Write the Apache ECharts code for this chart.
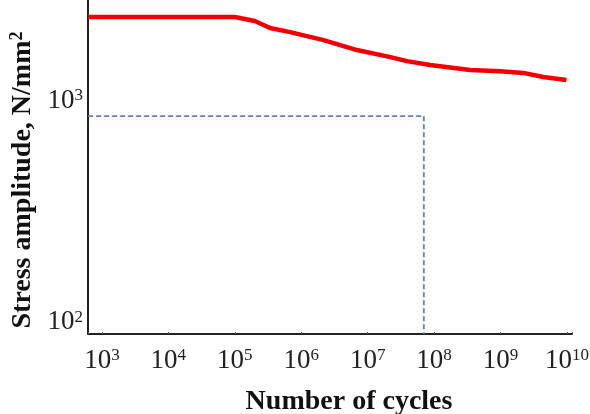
<!DOCTYPE html>
<html>
<head>
<meta charset="utf-8">
<script src="https://cdn.jsdelivr.net/npm/echarts@6/dist/echarts.min.js"></script>
<style>
  html, body { margin: 0; padding: 0; background: #fff; }
  #main { width: 590px; height: 414px; }
</style>
</head>
<body>
<div id="main"></div>
<script>
// S-N curve
var cycles = [620, 1e5, 2e5, 3.4e5, 6.8e5, 2.1e6, 6.9e6, 2.2e7, 3.9e7, 8.7e7, 3.5e8, 9.8e8, 2.2e9, 4.4e9, 9.8e9];
var stress = [2400, 2400, 2300, 2140, 2050, 1890, 1700, 1580, 1515, 1455, 1380, 1365, 1340, 1285, 1245];

// dashed guide: fatigue limit and its cycle count
var guideCycles = [620, 7e7, 7e7];
var guideStress = [855, 855, 88.3];

var chart = echarts.init(document.getElementById("main"));

function pairs(xs, ys) {
  return xs.map(function (x, i) { return [x, ys[i]]; });
}

// only label exact decades: 10^n
function powLabel(v) {
  var e = Math.log10(v);
  if (Math.abs(e - Math.round(e)) > 0.01) return "";
  return "{b|10}{s|" + Math.round(e) + "}";
}

var labelRich = {
  b: { fontFamily: "Liberation Serif", fontSize: 27, color: "#222" },
  s: { fontFamily: "Liberation Serif", fontSize: 17, color: "#222", verticalAlign: "top" }
};

chart.setOption({
  animation: false,
  grid: { left: 88, right: 18, top: 0, bottom: 80, outerBoundsMode: "none" },
  xAxis: {
    type: "log",
    logBase: 10,
    min: 617,
    max: 1.19e10,
    splitNumber: 7,
    name: "Number of cycles",
    nameLocation: "middle",
    nameGap: 54,
    nameTextStyle: {
      fontFamily: "Liberation Serif",
      fontWeight: "bold",
      fontSize: 28,
      color: "#111",
      padding: [0, 0, 0, 38]
    },
    axisLine: { lineStyle: { color: "#222", width: 2 } },
    axisTick: { show: true, inside: true, length: 2, lineStyle: { color: "#555", width: 1 } },
    splitLine: { show: false },
    axisLabel: {
      margin: 13,
      formatter: powLabel,
      rich: labelRich
    }
  },
  yAxis: {
    type: "log",
    logBase: 10,
    min: 88.3,
    max: 2864,
    splitNumber: 2,
    name: "Stress amplitude, N/mm{s|2}",
    nameLocation: "middle",
    nameGap: 50,
    nameTextStyle: {
      fontFamily: "Liberation Serif",
      fontWeight: "bold",
      fontSize: 28,
      color: "#111",
      padding: [0, 26, 0, 0],
      rich: {
        s: { fontFamily: "Liberation Serif", fontWeight: "bold", fontSize: 18, color: "#111", verticalAlign: "top" }
      }
    },
    axisLine: { show: true, lineStyle: { color: "#222", width: 2 } },
    axisTick: { show: false },
    splitLine: { show: false },
    axisLabel: {
      margin: 5,
      formatter: powLabel,
      rich: labelRich
    }
  },
  series: [
    {
      name: "S-N",
      type: "line",
      symbol: "none",
      lineStyle: { color: "#f00000", width: 4.5 },
      data: pairs(cycles, stress)
    },
    {
      name: "guide",
      type: "line",
      symbol: "none",
      lineStyle: { color: "#5f7fb8", width: 1.8, type: [5, 3] },
      data: pairs(guideCycles, guideStress)
    }
  ]
});
</script>
</body>
</html>
